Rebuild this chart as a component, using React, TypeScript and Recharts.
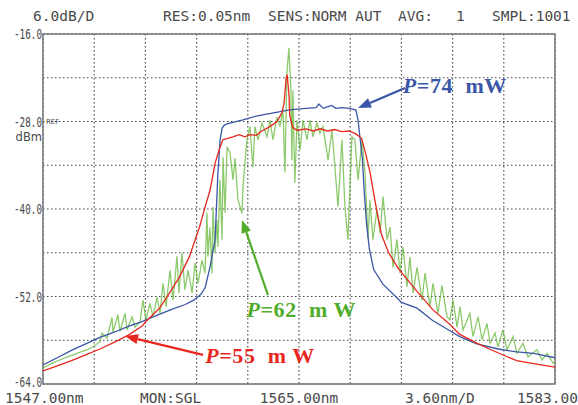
import React from 'react';
import { LineChart, Line, XAxis, YAxis, CartesianGrid, ReferenceArea, ReferenceLine, ReferenceDot } from 'recharts';

// ---- data (wavelength in nm, power in dBm) ----
const xTicks = [1547, 1550.6, 1554.2, 1557.8, 1561.4, 1565, 1568.6, 1572.2, 1575.8, 1579.4, 1583];
const yTicks = [-64, -58, -52, -46, -40, -34, -28, -22, -16];
const yLabeled = [-64, -52, -40, -28, -16];

const blueWl = [1547, 1548, 1549, 1550, 1551, 1552, 1553, 1554, 1555, 1556, 1557, 1557.6, 1558.1, 1558.4, 1558.75, 1559.1, 1559.3, 1559.45, 1559.6, 1559.75, 1560, 1561, 1562, 1563, 1563.5, 1564.3, 1565.5, 1566.2, 1566.4, 1566.7, 1567.0, 1567.3, 1567.6, 1568, 1568.5, 1569, 1569.15, 1569.45, 1569.6, 1569.75, 1569.95, 1570.25, 1570.9, 1571.9, 1572.2, 1573.3, 1574.4, 1575.7, 1576.3, 1577.5, 1579, 1580.3, 1581.5, 1583];
const blueDb = [-61.4, -60.4, -59.4, -58.5, -57.6, -56.9, -56.1, -55.4, -54.6, -53.8, -53.1, -52.5, -51.7, -50.8, -47.9, -44.2, -35, -30.5, -28.9, -28.5, -28.3, -27.8, -27.25, -26.9, -26.7, -26.4, -26.2, -26.1, -25.6, -26.2, -26.0, -25.8, -26.2, -26.1, -26.2, -26.4, -27.8, -33, -38, -42, -45.5, -48.3, -50.3, -52.2, -52.8, -53.6, -55.3, -56.8, -57.5, -58.5, -59.2, -59.6, -59.8, -60.4];

const redWl = [1547, 1548, 1549, 1550, 1551, 1552, 1553, 1554, 1554.2, 1555.2, 1555.9, 1556.6, 1557.3, 1558.0, 1558.4, 1558.75, 1559.1, 1559.45, 1559.65, 1560.35, 1560.8, 1561.2, 1561.55, 1562, 1562.3, 1562.95, 1563.45, 1563.8, 1563.95, 1564.1, 1564.17, 1564.3, 1564.35, 1564.55, 1564.85, 1565.5, 1566, 1566.5, 1567, 1567.5, 1568, 1568.5, 1569, 1569.4, 1569.7, 1570.0, 1570.4, 1570.8, 1571.3, 1572, 1573.3, 1574.4, 1575.6, 1576.3, 1577.5, 1578.5, 1580.3, 1581.5, 1583];
const redDb = [-62.2, -61.5, -60.8, -60.0, -59.2, -58.3, -57.3, -56.0, -55.5, -53.6, -51.5, -49.3, -46.5, -42.5, -39.7, -37.4, -33.7, -31.5, -30.5, -30.1, -29.8, -30.1, -29.8, -29.9, -29.4, -28.7, -28.0, -26.8, -25.5, -22.0, -21.6, -24.5, -27.2, -28.8, -29.2, -29.0, -29.3, -29.0, -29.3, -29.1, -29.4, -29.3, -29.7, -30.3, -32.5, -35.0, -39.5, -43.5, -46.0, -48.2, -51.3, -53.8, -55.8, -57.2, -58.4, -59.3, -60.8, -61.2, -61.7];

const greenWl = [1547.00, 1547.70, 1548.69, 1549.39, 1550.09, 1550.52, 1551.01, 1551.15, 1551.50, 1551.85, 1551.92, 1552.27, 1552.41, 1552.77, 1552.91, 1553.26, 1553.47, 1553.82, 1554.03, 1554.24, 1554.52, 1554.73, 1555.02, 1555.23, 1555.44, 1555.65, 1555.93, 1556.14, 1556.42, 1556.56, 1556.77, 1556.98, 1557.20, 1557.48, 1557.69, 1557.90, 1558.18, 1558.39, 1558.53, 1558.60, 1558.74, 1558.88, 1558.95, 1559.09, 1559.23, 1559.30, 1559.44, 1559.59, 1559.66, 1559.80, 1559.94, 1560.15, 1560.36, 1560.50, 1560.71, 1560.99, 1561.06, 1561.34, 1561.55, 1561.76, 1561.90, 1562.12, 1562.40, 1562.75, 1562.96, 1563.17, 1563.45, 1563.66, 1563.87, 1564.01, 1564.15, 1564.29, 1564.43, 1564.50, 1564.57, 1564.71, 1564.86, 1565.07, 1565.28, 1565.56, 1565.77, 1565.98, 1566.26, 1566.47, 1566.68, 1566.97, 1567.04, 1567.32, 1567.53, 1567.74, 1568.02, 1568.23, 1568.44, 1568.72, 1568.93, 1569.15, 1569.43, 1569.64, 1569.85, 1569.99, 1570.20, 1570.48, 1570.70, 1570.91, 1571.19, 1571.40, 1571.61, 1571.89, 1572.10, 1572.31, 1572.59, 1572.80, 1573.02, 1573.30, 1573.65, 1573.86, 1574.21, 1574.42, 1574.77, 1575.05, 1575.41, 1575.62, 1575.83, 1576.11, 1576.32, 1576.53, 1577.02, 1577.23, 1577.59, 1577.87, 1578.22, 1578.43, 1578.78, 1578.99, 1579.34, 1579.63, 1580.05, 1580.33, 1580.75, 1581.10, 1581.73, 1582.09, 1582.44, 1582.86, 1583.00];
const greenDb = [-61.8, -61.1, -60.3, -59.8, -59.3, -58.9, -58.2, -57.0, -57.7, -54.9, -56.9, -54.5, -56.8, -54.3, -56.6, -54.8, -56.2, -55.5, -52.5, -55.2, -52.9, -54.8, -52.1, -54.3, -50.2, -53.4, -48.4, -52.5, -46.5, -51.5, -46.0, -51.1, -48.4, -51.5, -47.4, -50.2, -47.0, -48.8, -40.5, -46.5, -42.5, -48.8, -39.7, -46.0, -41.5, -45.2, -36.0, -44.2, -32.9, -40.5, -31.5, -32.3, -36.0, -33.0, -38.8, -40.6, -37.0, -30.5, -28.7, -34.3, -28.7, -30.5, -28.2, -30.1, -27.8, -30.5, -27.4, -28.7, -26.4, -35.0, -21.4, -17.9, -23.7, -33.3, -23.7, -36.4, -27.8, -31.9, -27.8, -30.5, -27.8, -30.1, -28.2, -29.6, -28.7, -32.3, -33.3, -29.2, -34.3, -39.7, -30.5, -39.7, -44.2, -30.1, -30.5, -36.0, -30.5, -35.0, -44.0, -38.8, -44.2, -40.1, -43.3, -38.3, -44.2, -42.5, -48.0, -44.2, -48.8, -45.2, -50.7, -46.6, -51.5, -48.0, -52.5, -48.8, -53.4, -50.2, -54.3, -50.5, -54.8, -55.2, -52.5, -56.2, -53.4, -56.6, -54.3, -57.5, -54.8, -57.9, -55.7, -58.4, -57.0, -58.9, -56.6, -59.3, -57.5, -59.8, -58.4, -60.3, -59.3, -60.7, -59.8, -61.1, -61.0];

const toPoints = (wl: number[], db: number[]) => wl.map((x, i) => ({ x, y: db[i] }));
const blueData = toPoints(blueWl, blueDb);
const redData = toPoints(redWl, redDb);
const greenData = toPoints(greenWl, greenDb);

// annotations: label text anchor, arrow from -> to
const annBlue = { label: '=74  mW', text: { x: 1572.3, y: -24.1 }, from: { x: 1572.45, y: -23.4 }, to: { x: 1569.15, y: -26.15 } };
const annGreen = { label: '=62  m W', text: { x: 1561.3, y: -54.8 }, from: { x: 1562.82, y: -51.8 }, to: { x: 1560.99, y: -41.5 } };
const annRed = { label: '=55  m W', text: { x: 1558.4, y: -61.1 }, from: { x: 1558.25, y: -60.0 }, to: { x: 1552.77, y: -57.42 } };

const BLUE = '#3a56a6';
const RED = '#e8281f';
const GREEN = '#5cb42e';
const GREEN_TXT = '#52ad2a';
const TXT = '#4a4a4a';
const MONO = '"DejaVu Sans Mono", monospace';

const W = 578, H = 405;
const PLOT_L = 43, PLOT_T = 34, PLOT_R = 555, PLOT_B = 384;

const arrowShape = (color: string) => (p: any) => {
  const { x1, y1, x2, y2 } = p;
  const ang = Math.atan2(y2 - y1, x2 - x1);
  const L = 13, Wd = 5;
  const bx = x2 - L * Math.cos(ang), by = y2 - L * Math.sin(ang);
  const pts = `${x2},${y2} ${bx + Wd * Math.sin(ang)},${by - Wd * Math.cos(ang)} ${bx - Wd * Math.sin(ang)},${by + Wd * Math.cos(ang)}`;
  return (
    <g>
      <line x1={x1} y1={y1} x2={bx} y2={by} stroke={color} strokeWidth={2.2} />
      <polygon points={pts} fill={color} />
    </g>
  );
};

const labelShape = (color: string, value: string) => (p: any) => (
  <text x={p.cx} y={p.cy} fill={color} fontFamily='"Liberation Serif", "Times New Roman", serif' fontWeight="bold" fontSize={22} letterSpacing={0.6} style={{ whiteSpace: 'pre' }}>
    <tspan fontStyle="italic">P</tspan>
    <tspan>{value}</tspan>
  </text>
);

const YTick = (p: any) => {
  const v = p.payload.value;
  if (!yLabeled.includes(v)) return <g />;
  const dy = v === -64 ? 3 : 5;
  return (
    <g>
      <text x={PLOT_L - 1} y={p.y + dy} textAnchor="end" fill={TXT} fontFamily={MONO} fontSize={14} textLength={28} lengthAdjust="spacingAndGlyphs">{v.toFixed(1)}</text>
      {v === -28 && (
        <>
          <text x={PLOT_L + 3} y={p.y + 2} fill={TXT} fontFamily='"DejaVu Sans", sans-serif' fontSize={7}>REF</text>
          <text x={PLOT_L - 1} y={p.y + 19} textAnchor="end" fill={TXT} fontFamily='"DejaVu Sans", sans-serif' fontSize={11.5}>dBm</text>
        </>
      )}
    </g>
  );
};

const XTick = (p: any) => {
  const v = p.payload.value;
  const common = { y: PLOT_B + 19, fill: TXT, fontFamily: MONO, fontSize: 14.5 } as any;
  if (v === 1547) return <text x={p.x - 38} textAnchor="start" {...common}>1547.00nm</text>;
  if (v === 1565) return <text x={p.x} textAnchor="middle" {...common}>1565.00nm</text>;
  if (v === 1583) return <text x={p.x + 23} textAnchor="end" {...common}>1583.00</text>;
  return <g />;
};

const headerStyle: React.CSSProperties = { position: 'absolute', top: 8, fontFamily: MONO, fontSize: 14.5, color: TXT, whiteSpace: 'pre', lineHeight: '17px' };
const footerStyle: React.CSSProperties = { ...headerStyle, top: 390 };

export default function App() {
  return (
    <div style={{ position: 'fixed', left: 0, top: 0, width: W, height: H, background: '#fff', overflow: 'hidden' }}>
      <LineChart width={W} height={H} margin={{ top: PLOT_T, right: W - PLOT_R, bottom: 0, left: 0 }}>
        <CartesianGrid stroke="#444" strokeDasharray="1.5 2.5" strokeWidth={1.1} />
        <XAxis type="number" dataKey="x" domain={[1547, 1583]} ticks={xTicks} allowDataOverflow height={H - PLOT_B} axisLine={false} tickLine={false} tick={<XTick />} interval={0} />
        <YAxis type="number" dataKey="y" domain={[-64, -16]} ticks={yTicks} allowDataOverflow width={PLOT_L} axisLine={false} tickLine={false} tick={<YTick />} interval={0} />
        <Line data={greenData} dataKey="y" stroke={GREEN} strokeOpacity={0.7} strokeWidth={1.3} dot={false} isAnimationActive={false} />
        <Line data={blueData} dataKey="y" stroke={BLUE} strokeWidth={1.3} dot={false} isAnimationActive={false} />
        <Line data={redData} dataKey="y" stroke={RED} strokeWidth={1.3} dot={false} isAnimationActive={false} />
        <ReferenceArea x1={1547} x2={1583} y1={-64} y2={-16} fill="none" stroke="#777" strokeWidth={1.5} />
        <ReferenceLine segment={[annBlue.from, annBlue.to]} stroke={BLUE} shape={arrowShape(BLUE)} />
        <ReferenceLine segment={[annGreen.from, annGreen.to]} stroke={GREEN} shape={arrowShape(GREEN_TXT)} />
        <ReferenceLine segment={[annRed.from, annRed.to]} stroke={RED} shape={arrowShape(RED)} />
        <ReferenceDot x={annBlue.text.x} y={annBlue.text.y} r={0} shape={labelShape(BLUE, annBlue.label)} />
        <ReferenceDot x={annGreen.text.x} y={annGreen.text.y} r={0} shape={labelShape(GREEN_TXT, annGreen.label)} />
        <ReferenceDot x={annRed.text.x} y={annRed.text.y} r={0} shape={labelShape(RED, annRed.label)} />
      </LineChart>
      <span style={{ ...headerStyle, left: 33 }}>6.0dB/D</span>
      <span style={{ ...headerStyle, left: 163 }}>RES:0.05nm</span>
      <span style={{ ...headerStyle, left: 268 }}>SENS:NORM AUT</span>
      <span style={{ ...headerStyle, left: 398 }}>AVG:</span>
      <span style={{ ...headerStyle, left: 456 }}>1</span>
      <span style={{ ...headerStyle, left: 492 }}>SMPL:1001</span>
      <span style={{ ...footerStyle, left: 140 }}>MON:SGL</span>
      <span style={{ ...footerStyle, left: 405 }}>3.60nm/D</span>
    </div>
  );
}
